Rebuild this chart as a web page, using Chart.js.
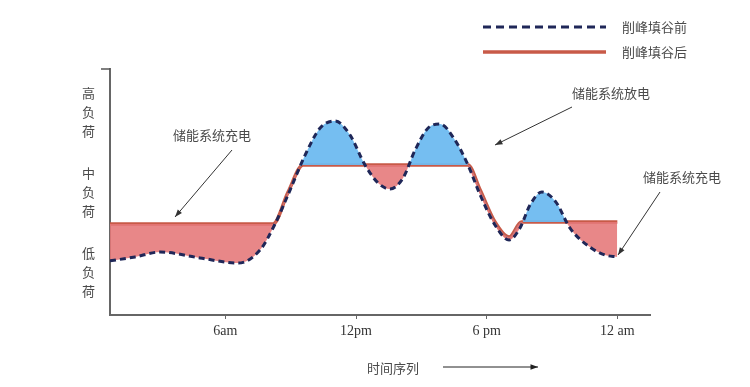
<!DOCTYPE html>
<html>
<head>
<meta charset="utf-8">
<script src="https://cdn.jsdelivr.net/npm/chart.js@4"></script>
<style>
  html, body { margin: 0; padding: 0; background: #ffffff; }
  #wrap { width: 750px; height: 387px; }
</style>
</head>
<body>
<div id="wrap"><canvas id="loadChart" width="750" height="387"></canvas></div>
<script>
// Load curve before / after peak shaving (hour of day, relative load 0-100)
const beforeHours = [0.7, 1.85, 3.0, 4.83, 6.58, 7.59, 8.28, 8.97, 9.66, 10.35, 11.04, 11.72, 12.41, 13.01, 13.56, 14.16, 14.71, 15.31, 15.86, 16.55, 17.14, 17.7, 18.38, 19.03, 19.53, 19.99, 20.54, 21.18, 21.82, 22.74, 23.43, 24.0];
const beforeLoad  = [22, 23.6, 25.6, 23.2, 21.1, 26.4, 37, 50.8, 65, 76, 78.9, 73.2, 61, 53.7, 51.2, 55.7, 67, 76, 77.6, 71, 61, 48.8, 36.6, 30.5, 35.4, 44.7, 50, 45.9, 35.4, 27.6, 24.4, 23.6];

const afterHours = [0.7, 8.19, 8.88, 9.57, 17.14, 17.7, 18.38, 19.03, 19.6, 24.0];
const afterLoad  = [37, 37, 50, 61, 61, 50.8, 37.8, 31.7, 37.8, 37.8];

const xTickValues = [6, 12, 18, 24];
const xTickLabels = ['6am', '12pm', '6 pm', '12 am'];
const yTickValues = [17.5, 50, 82.5];
const yTickLabels = ['低负荷', '中负荷', '高负荷'];

const legendLabels = ['削峰填谷前', '削峰填谷后'];
const xTitle = '时间序列';

const CJK = '"Noto Sans CJK SC", sans-serif';
const SERIF = '"Liberation Serif", "DejaVu Serif", serif';
const TEXT_COLOR = '#4a4a4a';
const DASH_COLOR = '#1f2758';
const RED_LINE = '#c85a48';

function toPoints(xs, ys) {
    return xs.map((x, i) => ({ x: x, y: ys[i] }));
}

function arrow(ctx, x1, y1, x2, y2) {
    const a = Math.atan2(y2 - y1, x2 - x1);
    ctx.beginPath();
    ctx.moveTo(x1, y1);
    ctx.lineTo(x2, y2);
    ctx.stroke();
    ctx.beginPath();
    ctx.moveTo(x2, y2);
    ctx.lineTo(x2 - 8 * Math.cos(a - 0.35), y2 - 8 * Math.sin(a - 0.35));
    ctx.lineTo(x2 - 8 * Math.cos(a + 0.35), y2 - 8 * Math.sin(a + 0.35));
    ctx.closePath();
    ctx.fill();
}

// Legend, callouts and axis title
const decorations = {
    id: 'decorations',
    afterDraw(chart) {
        const ctx = chart.ctx;
        ctx.save();

        // legend
        ctx.lineWidth = 3;
        ctx.strokeStyle = DASH_COLOR;
        ctx.setLineDash([8, 5]);
        ctx.beginPath();
        ctx.moveTo(483, 27);
        ctx.lineTo(606, 27);
        ctx.stroke();
        ctx.setLineDash([]);
        ctx.lineWidth = 3.5;
        ctx.strokeStyle = RED_LINE;
        ctx.beginPath();
        ctx.moveTo(483, 52);
        ctx.lineTo(606, 52);
        ctx.stroke();

        ctx.fillStyle = TEXT_COLOR;
        ctx.font = '13px ' + CJK;
        ctx.textAlign = 'left';
        ctx.textBaseline = 'middle';
        ctx.fillText(legendLabels[0], 622, 27);
        ctx.fillText(legendLabels[1], 622, 52);

        // callouts
        ctx.textAlign = 'center';
        ctx.fillText('储能系统充电', 212, 135);
        ctx.fillText('储能系统放电', 611, 93);
        ctx.fillText('储能系统充电', 682, 177);

        ctx.strokeStyle = '#333333';
        ctx.fillStyle = '#333333';
        ctx.lineWidth = 1;
        arrow(ctx, 232, 150, 175, 217);
        arrow(ctx, 572, 107, 495, 145);
        arrow(ctx, 660, 192, 618, 255);

        // x title with arrow
        ctx.fillStyle = TEXT_COLOR;
        ctx.font = '13px ' + CJK;
        ctx.fillText(xTitle, 393, 368);
        ctx.strokeStyle = '#222222';
        ctx.fillStyle = '#222222';
        arrow(ctx, 443, 367, 538, 367);

        // small tick at top of y axis
        ctx.strokeStyle = '#555555';
        ctx.lineWidth = 1.5;
        ctx.beginPath();
        ctx.moveTo(101, chart.chartArea.top);
        ctx.lineTo(110, chart.chartArea.top);
        ctx.stroke();

        ctx.restore();
    }
};

const ctx = document.getElementById('loadChart');

new Chart(ctx, {
    type: 'line',
    data: {
        datasets: [{
            label: legendLabels[0],
            data: toPoints(beforeHours, beforeLoad),
            borderColor: DASH_COLOR,
            borderWidth: 3,
            borderDash: [6, 4],
            pointRadius: 0,
            cubicInterpolationMode: 'monotone',
            fill: {
                target: 1,
                above: 'rgba(110, 186, 240, 0.95)',
                below: 'rgba(229, 118, 120, 0.88)'
            },
            order: 0
        }, {
            label: legendLabels[1],
            data: toPoints(afterHours, afterLoad),
            borderColor: RED_LINE,
            borderWidth: 3.5,
            pointRadius: 0,
            cubicInterpolationMode: 'monotone',
            fill: false,
            order: 1
        }]
    },
    options: {
        responsive: false,
        animation: false,
        layout: { padding: { left: 0, right: 100, top: 69, bottom: 0 } },
        plugins: {
            legend: { display: false },
            tooltip: { enabled: false }
        },
        scales: {
            x: {
                type: 'linear',
                min: 0.7,
                max: 25.5,
                afterFit(scale) { scale.height = 72; },
                afterBuildTicks(scale) {
                    scale.ticks = xTickValues.map(v => ({ value: v }));
                },
                ticks: {
                    autoSkip: false,
                    maxRotation: 0,
                    padding: 4,
                    color: '#333333',
                    font: { family: SERIF, size: 14 },
                    callback: (v) => xTickLabels[xTickValues.indexOf(v)]
                },
                grid: {
                    drawOnChartArea: false,
                    tickLength: 4,
                    color: '#666666'
                },
                border: { color: '#666666', width: 2 }
            },
            y: {
                type: 'linear',
                min: 0,
                max: 100,
                afterFit(scale) { scale.width = 110; },
                afterBuildTicks(scale) {
                    scale.ticks = yTickValues.map(v => ({ value: v }));
                },
                ticks: {
                    autoSkip: false,
                    padding: 15,
                    color: TEXT_COLOR,
                    font: { family: CJK, size: 13, lineHeight: 1.45 },
                    callback: (v) => yTickLabels[yTickValues.indexOf(v)].split('')
                },
                grid: {
                    display: true,
                    drawOnChartArea: false,
                    drawTicks: false
                },
                border: { color: '#666666', width: 2 }
            }
        }
    },
    plugins: [decorations]
});
</script>
</body>
</html>
